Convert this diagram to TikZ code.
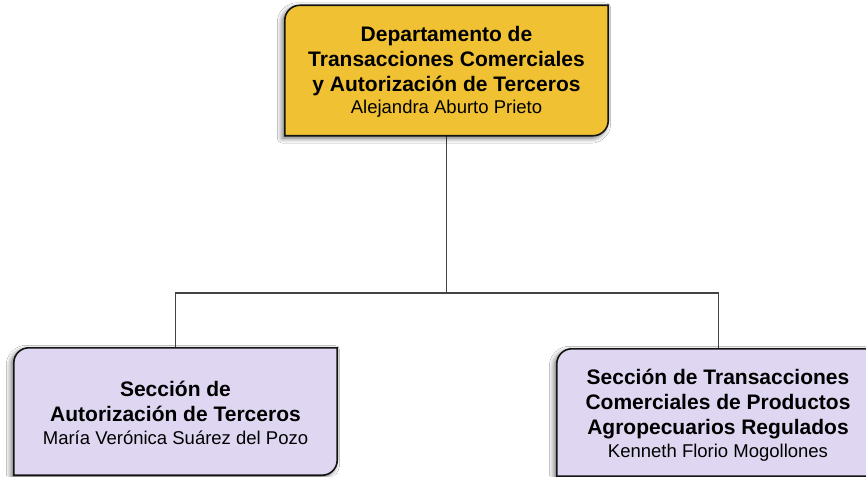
\documentclass[tikz,border=0pt]{standalone}
\usepackage{fontspec}
\setmainfont{Liberation Sans}
\usetikzlibrary{calc,shadows.blur}
\definecolor{goldfill}{HTML}{F0C233}
\definecolor{lavfill}{HTML}{DFD7F1}
\definecolor{edgecol}{HTML}{141414}
\definecolor{conncol}{HTML}{444444}
\tikzset{
  boxtext/.style={align=center, text=black, inner sep=0pt,
    font=\fontsize{21}{25}\selectfont\bfseries},
  frame/.style={draw=edgecol, line width=1.6pt,
    blur shadow={shadow xshift=-2.5pt, shadow yshift=-2.5pt, shadow blur steps=6, shadow blur radius=5pt, shadow opacity=60}},
  conn/.style={draw=conncol, line width=1.6pt},
}
\newcommand\cutbox[3]{% node, fill, radius
  \path[frame, fill=#2] ($(#1.north west)+(0,-#3)$) arc[start angle=180,end angle=90,radius=#3]
    -- (#1.north east) -- ($(#1.south east)+(0,#3)$) arc[start angle=0,end angle=-90,radius=#3]
    -- (#1.south west) -- cycle;}
\newcommand\namefont{\mdseries\fontsize{18.5}{22}\selectfont}
\begin{document}
\begin{tikzpicture}[x=1pt,y=1pt]
\clip (0,0) rectangle (866,-476);
\fill[white] (0,0) rectangle (866,-476);
% box frames (invisible nodes define geometry)
\node[minimum width=323pt, minimum height=130pt, inner sep=0pt] (top) at (446.5,-70.5) {};
\node[minimum width=323pt, minimum height=127pt, inner sep=0pt] (left) at (175.5,-411.5) {};
\node[minimum width=323pt, minimum height=127pt, inner sep=0pt] (right) at (718.5,-412.5) {};
\coordinate (hub) at (446.5,-293);
% connectors
\draw[conn] (top.south) -- (hub);
\draw[conn] (hub) -| (left.north);
\draw[conn] (hub) -| (right.north);
% boxes
\cutbox{top}{goldfill}{15}
\cutbox{left}{lavfill}{15}
\cutbox{right}{lavfill}{15}
% texts
\node[boxtext] (toptext) at (446.5,-72) {Departamento de\\Transacciones Comerciales\\y Autorización de Terceros\\[-2.5pt]\namefont Alejandra Aburto Prieto};
\node[boxtext] (lefttext) at (175.5,-413) {Sección de\\Autorización de Terceros\\[-2.5pt]\namefont María Verónica Suárez del Pozo};
\node[boxtext] (righttext) at (718,-415) {Sección de Transacciones\\Comerciales de Productos\\Agropecuarios Regulados\\[-2.5pt]\namefont Kenneth Florio Mogollones};
\end{tikzpicture}
\end{document}
